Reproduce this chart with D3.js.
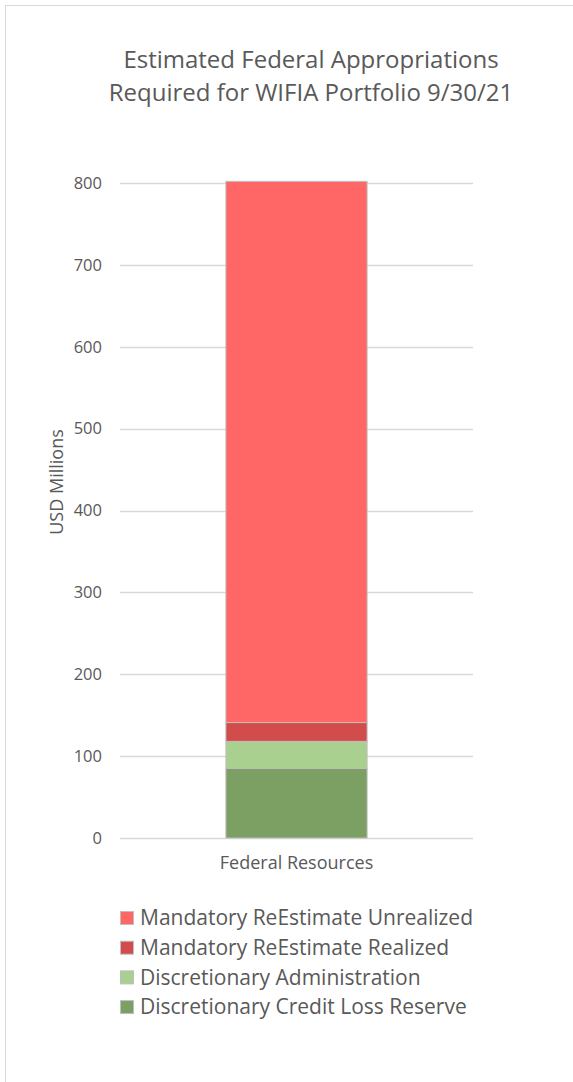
<!DOCTYPE html>
<html>
<head>
<meta charset="utf-8">
<script src="https://cdn.jsdelivr.net/npm/d3@7"></script>
<style>
  body { margin: 0; background: #fff; }
  text { font-family: "Open Sans", Lato, sans-serif; fill: #595959; }
</style>
</head>
<body>
<div id="chart"></div>
<script>
// Data (bottom to top)
var categories = ["Federal Resources"];
var seriesNames = [
    "Discretionary Credit Loss Reserve",
    "Discretionary Administration",
    "Mandatory ReEstimate Realized",
    "Mandatory ReEstimate Unrealized"
];
var seriesValues = [85, 33, 23, 661];
var seriesColors = ["#7c9f64", "#a9d08e", "#d24c4c", "#ff6666"];
var yTicks = [0, 100, 200, 300, 400, 500, 600, 700, 800];
var titleLines = ["Estimated Federal Appropriations", "Required for WIFIA Portfolio 9/30/21"];

var width = 573,
    height = 1082,
    margin = { top: 183, right: 100, bottom: 244, left: 120 };

var svg = d3.select("#chart")
    .append("svg")
    .attr("width", width)
    .attr("height", height);

// outer chart border (only left/top show in frame)
svg.append("rect")
    .attr("x", 5.5).attr("y", 5.5)
    .attr("width", width + 20).attr("height", height + 20)
    .attr("fill", "none")
    .attr("stroke", "#d9d9d9");

// Title
svg.append("text")
    .attr("x", 311)
    .attr("y", 68)
    .attr("text-anchor", "middle")
    .style("font-size", "24px")
    .selectAll("tspan")
    .data(titleLines)
    .enter().append("tspan")
    .attr("x", 311)
    .attr("dy", (d, i) => i === 0 ? 0 : 33)
    .text(d => d);

// Scales
var x = d3.scaleBand()
    .domain(categories)
    .range([margin.left, width - margin.right])
    .padding(0.4286);

var y = d3.scaleLinear()
    .domain([0, 800])
    .range([height - margin.bottom, margin.top]);

// Gridlines
svg.append("g")
    .selectAll("line")
    .data(yTicks)
    .enter().append("line")
    .attr("x1", margin.left)
    .attr("x2", width - margin.right)
    .attr("y1", d => Math.round(y(d)) + 0.5)
    .attr("y2", d => Math.round(y(d)) + 0.5)
    .attr("stroke", "#d9d9d9")
    .attr("stroke-width", 1.5);

// Y axis labels
var yAxis = svg.append("g")
    .attr("transform", `translate(${margin.left},0)`)
    .call(d3.axisLeft(y).tickValues(yTicks).tickSize(0).tickPadding(18));
yAxis.select(".domain").remove();
yAxis.selectAll("text")
    .style("font-size", "16.5px")
    .style("font-family", "'Open Sans', sans-serif")
    .attr("fill", "#595959");

// Stacked bar
var stacked = [];
var acc = 0;
seriesValues.forEach(function(v, i) {
    stacked.push({ name: seriesNames[i], y0: acc, y1: acc + v, color: seriesColors[i] });
    acc += v;
});

svg.append("g")
    .selectAll("rect")
    .data(stacked)
    .enter().append("rect")
    .attr("x", x(categories[0]))
    .attr("y", d => y(d.y1))
    .attr("width", x.bandwidth())
    .attr("height", d => y(d.y0) - y(d.y1))
    .attr("fill", d => d.color)
    .attr("stroke", "#bfbfbf")
    .attr("stroke-width", 1);

// X axis label
var xAxis = svg.append("g")
    .attr("transform", `translate(0,${height - margin.bottom})`)
    .call(d3.axisBottom(x).tickSize(0).tickPadding(18));
xAxis.select(".domain").remove();
xAxis.selectAll("text")
    .style("font-size", "18px")
    .style("font-family", "'Open Sans', sans-serif")
    .attr("fill", "#595959");

// Y axis title
svg.append("text")
    .attr("transform", "translate(63,482) rotate(-90)")
    .attr("text-anchor", "middle")
    .style("font-size", "18px")
    .text("USD Millions");

// Legend (top entry = top of stack)
var legendData = stacked.slice().reverse();
var legend = svg.append("g")
    .attr("transform", "translate(120,918)");

var item = legend.selectAll("g")
    .data(legendData)
    .enter().append("g")
    .attr("transform", (d, i) => `translate(0,${i * 29.7})`);

item.append("rect")
    .attr("x", 0.5).attr("y", -6.5)
    .attr("width", 13).attr("height", 13)
    .attr("fill", d => d.color)
    .attr("stroke", "#bfbfbf");

item.append("text")
    .attr("x", 20)
    .attr("y", 0)
    .attr("dy", "0.35em")
    .style("font-size", "21px")
    .text(d => d.name);
</script>
</body>
</html>
